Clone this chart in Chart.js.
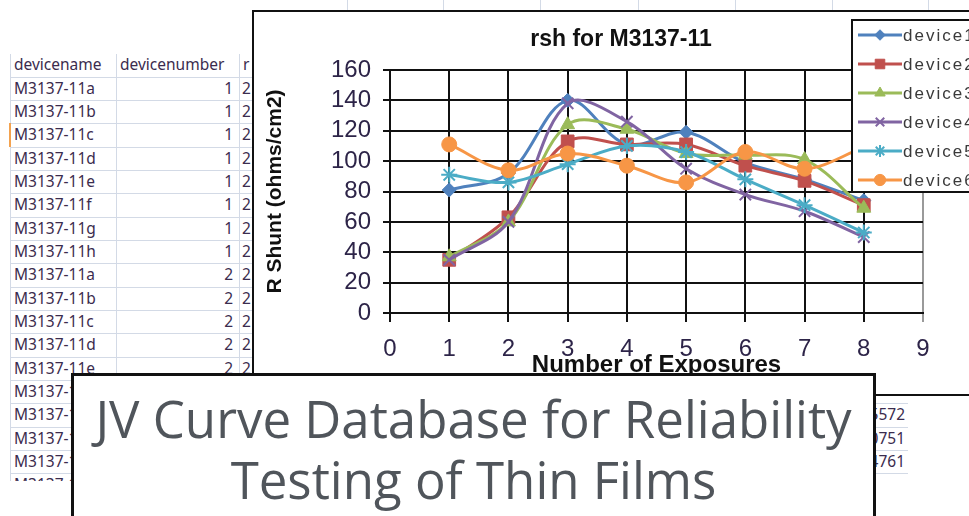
<!DOCTYPE html>
<html>
<head>
<meta charset="utf-8">
<script src="https://cdn.jsdelivr.net/npm/chart.js@4.4.1/dist/chart.umd.min.js"></script>
<style>
  html, body { margin: 0; padding: 0; background: #fff; }
  body { width: 969px; height: 516px; position: relative; overflow: hidden; }
  #sheet { position: absolute; left: 0; top: 0; width: 969px; height: 481px; overflow: hidden; }
  .hl { position: absolute; height: 1px; background: #d3dae6; }
  .vl { position: absolute; width: 1px; background: #d3dae6; }
  .cell { position: absolute; font-family: "Noto Sans", sans-serif; font-size: 15.5px; color: #3b2c4e; white-space: nowrap; line-height: 23px; }
  #chart-box { position: absolute; left: 252px; top: 10px; width: 734px; height: 382px; border: 2px solid #111; border-right: none; background: #fff; }
  #title-box { position: absolute; left: 71px; top: 373px; width: 799px; height: 200px; border: 3px solid #111; background: #fff; text-align: center; font-family: "Open Sans", sans-serif; font-size: 51px; line-height: 61px; color: #50555b; padding-top: 12px; }
</style>
</head>
<body>
<div id="sheet"></div>
<div id="chart-box"><canvas id="rshChart"></canvas></div>
<div id="title-box">JV Curve Database for Reliability<br>Testing of Thin Films</div>
<script>
// chart data
const exposures = [1, 2, 3, 4, 5, 6, 7, 8];
const device1 = [81, 92, 140, 111, 119, 99, 88, 74];
const device2 = [35, 63, 113, 111, 111, 97, 87, 71];
const device3 = [37, 60, 124, 121, 105, 104, 101, 69];
const device4 = [35, 60, 138, 126, 95, 78, 67, 50];
const device5 = [91, 86, 98, 110, 106, 88, 71, 53];
const device6 = [111, 94, 105, 97, 86, 106, 95, 109];
const seriesNames = ["device1", "device2", "device3", "device4", "device5", "device6"];
const xRange = [0, 9];
const yRange = [0, 160];
const yStep = 20;

// spreadsheet behind the chart
const sheetHeader = ["devicename", "devicenumber", "r"];
const sheetNames = ["M3137-11a", "M3137-11b", "M3137-11c", "M3137-11d", "M3137-11e", "M3137-11f",
  "M3137-11g", "M3137-11h", "M3137-11a", "M3137-11b", "M3137-11c", "M3137-11d", "M3137-11e",
  "M3137-11f", "M3137-11g", "M3137-11h", "M3137-11a", "M3137-11b"];
const sheetNumbers = [1, 1, 1, 1, 1, 1, 1, 1, 2, 2, 2, 2, 2, 2, 2, 2, 3, 3];
const sideValues = {14: "5572", 15: "0751", 16: "4761"};

const seriesValues = [device1, device2, device3, device4, device5, device6];
const seriesColors = ["#4F81BD", "#C0504D", "#9BBB59", "#8064A2", "#4BACC6", "#F79646"];
const seriesMarkers = ["rectRot", "rect", "triangle", "crossRot", "star", "circle"];
const markerSizes = [7, 9, 8, 8, 8, 7.5];

const sheet = document.getElementById("sheet");
const addEl = (cls, css, text) => {
  const el = document.createElement("div");
  el.className = cls;
  el.style.cssText = css;
  if (text !== undefined) el.textContent = text;
  sheet.appendChild(el);
  return el;
};

const rowTop = (i) => 76.7 + i * 23.33;
[10, 116, 239].forEach((x) => addEl("vl", `left:${x}px;top:54px;height:430px;`));
[347, 443, 540, 638, 735, 832, 928].forEach((x) => addEl("vl", `left:${x}px;top:0;height:10px;`));
for (let i = 0; i <= sheetNames.length; i++) {
  addEl("hl", `left:10px;top:${rowTop(i).toFixed(1)}px;width:898px;`);
}
addEl("", "position:absolute;left:9px;top:123px;width:2px;height:24px;background:#f3a24f;");

addEl("cell", "left:14px;top:53px;", sheetHeader[0]);
addEl("cell", "left:120px;top:53px;", sheetHeader[1]);
addEl("cell", "left:243px;top:53px;", sheetHeader[2]);
sheetNames.forEach((name, i) => {
  const t = rowTop(i);
  addEl("cell", `left:14px;top:${t.toFixed(1)}px;`, name);
  addEl("cell", `left:116px;width:117px;text-align:right;top:${t.toFixed(1)}px;`, String(sheetNumbers[i]));
  addEl("cell", `left:242px;top:${t.toFixed(1)}px;`, "2");
  if (sideValues[i]) {
    addEl("cell", `left:860px;width:45px;text-align:right;top:${t.toFixed(1)}px;`, sideValues[i]);
  }
});

// chart
Chart.defaults.font.family = '"Liberation Sans", Arial, sans-serif';

const gridColor = (c) => (c.tick && c.tick.value === xRange[1] ? "#9a9a9a" : "#111");

const legendPlugin = {
  id: "excelLegend",
  afterDraw(chart) {
    const { ctx } = chart;
    const left = 598, top = 8, width = 150, height = 172;
    ctx.save();
    ctx.fillStyle = "#fff";
    ctx.fillRect(left, top, width, height);
    ctx.strokeStyle = "#111";
    ctx.lineWidth = 2;
    ctx.strokeRect(left, top, width, height);
    chart.data.datasets.forEach((ds, i) => {
      const y = top + 15 + i * 29;
      ctx.strokeStyle = ds.borderColor;
      ctx.fillStyle = ds.borderColor;
      ctx.lineWidth = 3;
      ctx.beginPath();
      ctx.moveTo(left + 6, y);
      ctx.lineTo(left + 50, y);
      ctx.stroke();
      ctx.lineWidth = ds.pointBorderWidth;
      Chart.helpers.drawPoint(ctx, {
        pointStyle: ds.pointStyle,
        radius: ds.pointRadius * 0.75,
        borderWidth: ds.pointBorderWidth,
        rotation: 0,
      }, left + 28, y);
      ctx.fillStyle = "#3a3a3a";
      ctx.font = '17px "Liberation Sans", Arial, sans-serif';
      if ("letterSpacing" in ctx) ctx.letterSpacing = "2px";
      ctx.textBaseline = "middle";
      ctx.textAlign = "left";
      ctx.fillText(ds.label, left + 51, y + 1);
    });
    ctx.restore();
  },
};

new Chart(document.getElementById("rshChart"), {
  type: "line",
  data: {
    datasets: seriesNames.map((name, i) => ({
      label: name,
      data: exposures.map((x, j) => ({ x, y: seriesValues[i][j] })),
      borderColor: seriesColors[i],
      backgroundColor: seriesColors[i],
      pointBackgroundColor: seriesColors[i],
      pointBorderColor: seriesColors[i],
      borderWidth: 3,
      tension: 0.35,
      pointStyle: seriesMarkers[i],
      pointRadius: markerSizes[i],
      pointBorderWidth: i === 3 || i === 4 ? 2 : 1,
      fill: false,
      order: seriesNames.length - 1 - i,
    })),
  },
  options: {
    responsive: true,
    maintainAspectRatio: false,
    animation: false,
    layout: { padding: 0 },
    plugins: {
      legend: { display: false },
      tooltip: { enabled: false },
      title: {
        display: true,
        text: "rsh for M3137-11",
        color: "#111",
        font: { size: 23, weight: "bold" },
        padding: { top: 14, bottom: 16.4 },
      },
    },
    scales: {
      x: {
        type: "linear",
        min: xRange[0],
        max: xRange[1],
        ticks: { stepSize: 1, autoSkip: false, color: "#2d2448", font: { size: 24 }, padding: 13 },
        grid: { color: gridColor, lineWidth: 2, tickLength: 9 },
        border: { display: true, color: "#111", width: 2 },
        title: {
          display: true,
          text: "Number of Exposures",
          color: "#111",
          font: { size: 24, weight: "bold" },
          padding: { top: 0, bottom: 14 },
        },
        afterFit(s) { s.height = 81; },
      },
      y: {
        min: yRange[0],
        max: yRange[1],
        ticks: { stepSize: yStep, autoSkip: false, color: "#2d2448", font: { size: 24 }, padding: 12 },
        grid: { color: "#111", lineWidth: 2, tickLength: 7 },
        border: { display: true, color: "#111", width: 2 },
        title: {
          display: true,
          text: "R Shunt (ohms/cm2)",
          color: "#111",
          font: { size: 21, weight: "bold" },
          padding: { top: 8.4, bottom: 0 },
        },
        afterFit(s) { s.width = 136; },
      },
      // empty right-hand strip so the plot ends where the original does
      pad: {
        position: "right",
        display: true,
        grid: { display: false, drawTicks: false },
        border: { display: false },
        ticks: { display: false },
        afterFit(s) { s.width = 65; },
      },
    },
  },
  plugins: [legendPlugin],
});
</script>
</body>
</html>
